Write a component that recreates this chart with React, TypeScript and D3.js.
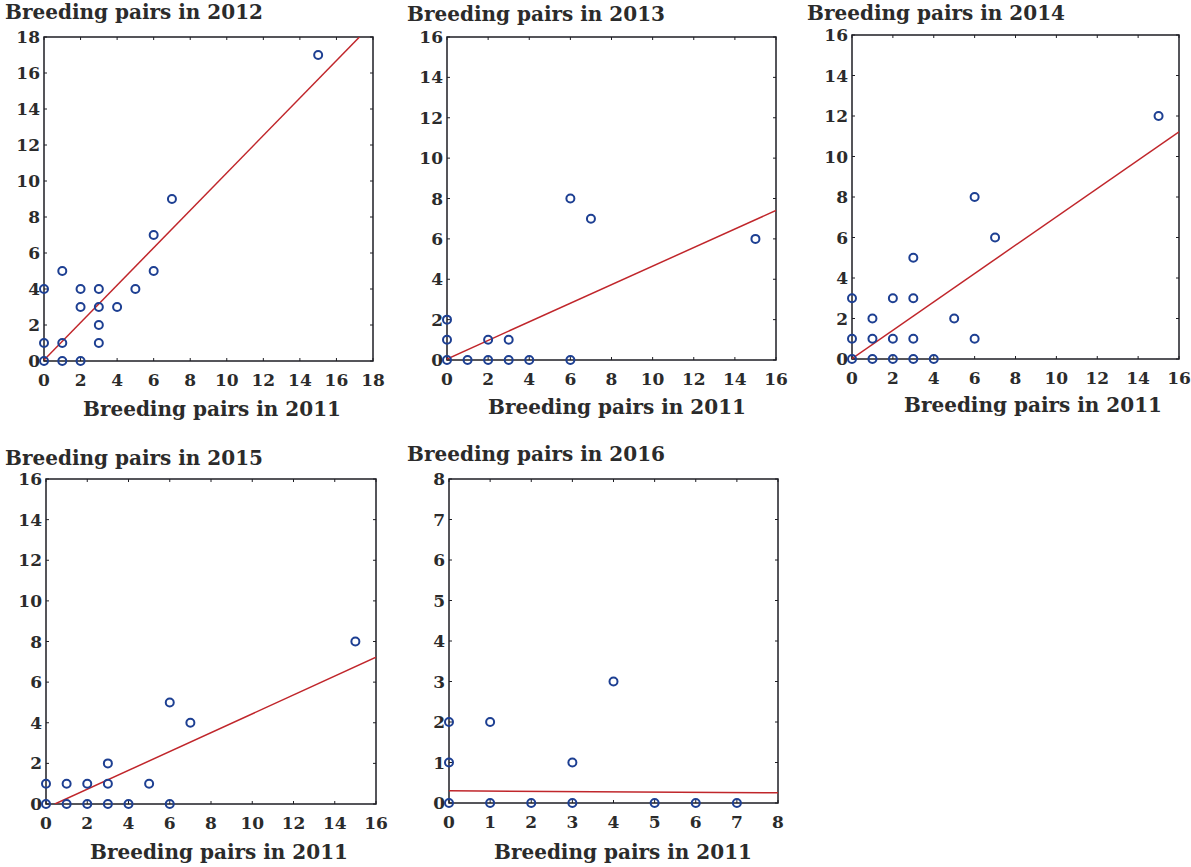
import React from "react";
import * as d3 from "d3";

// ---- data: [pairs in 2011, pairs in year] ----
const pairs2012: [number, number][] = [
  [0, 0], [0, 1], [0, 4], [1, 0], [1, 1], [1, 5], [2, 0], [2, 3], [2, 4],
  [3, 1], [3, 2], [3, 3], [3, 4], [4, 3], [5, 4], [6, 5], [6, 7], [7, 9], [15, 17],
];
const pairs2013: [number, number][] = [
  [0, 0], [0, 1], [0, 2], [1, 0], [2, 0], [2, 1], [3, 0], [3, 1], [4, 0],
  [6, 0], [6, 8], [7, 7], [15, 6],
];
const pairs2014: [number, number][] = [
  [0, 0], [0, 1], [0, 3], [1, 0], [1, 1], [1, 2], [2, 0], [2, 1], [2, 3],
  [3, 0], [3, 1], [3, 3], [3, 5], [4, 0], [5, 2], [6, 1], [6, 8], [7, 6], [15, 12],
];
const pairs2015: [number, number][] = [
  [0, 0], [0, 1], [1, 0], [1, 1], [2, 0], [2, 1], [3, 0], [3, 1], [3, 2],
  [4, 0], [5, 1], [6, 0], [6, 5], [7, 4], [15, 8],
];
const pairs2016: [number, number][] = [
  [0, 0], [0, 1], [0, 2], [1, 0], [1, 2], [2, 0], [3, 0], [3, 1], [4, 3],
  [5, 0], [6, 0], [7, 0],
];

// regression lines: [intercept, slope]
const fit2012: [number, number] = [0.05, 1.04];
const fit2013: [number, number] = [0.05, 0.46];
const fit2014: [number, number] = [0.02, 0.70];
const fit2015: [number, number] = [-0.2, 0.464];
const fit2016: [number, number] = [0.30, -0.006];

const years = ["2012", "2013", "2014", "2015", "2016"];
const axisMax = [18, 16, 16, 16, 8];
const tickStep = [2, 2, 2, 2, 1];
const xTitle = "Breeding pairs in 2011";

const allData = [pairs2012, pairs2013, pairs2014, pairs2015, pairs2016];
const allFits = [fit2012, fit2013, fit2014, fit2015, fit2016];

// ---- layout ----
const layout = [
  { l: 44, r: 373, t: 37, b: 361, tx: 5, ty: 19, axy: 416, axx: 212 },
  { l: 447, r: 776, t: 37, b: 360, tx: 407, ty: 21, axy: 414, axx: 617 },
  { l: 852, r: 1179, t: 35, b: 359, tx: 807, ty: 20, axy: 412, axx: 1033 },
  { l: 46, r: 376, t: 479, b: 804, tx: 5, ty: 465, axy: 859, axx: 219 },
  { l: 449, r: 778, t: 479, b: 803, tx: 407, ty: 461, axy: 859, axx: 623 },
];

const FONT = "'DejaVu Serif', 'Liberation Serif', serif";
const TEXT = "#2b2b2b";
const FRAME = "#1e1e24";
const POINT = "#1d3f92";
const LINE = "#c0262b";

function Panel({ i }: { i: number }) {
  const L = layout[i];
  const max = axisMax[i];
  const step = tickStep[i];
  const x = d3.scaleLinear().domain([0, max]).range([L.l, L.r]);
  const y = d3.scaleLinear().domain([0, max]).range([L.b, L.t]);
  const ticks = d3.range(0, max + step / 2, step);
  const [a, s] = allFits[i];
  let x0 = 0;
  if (a < 0) x0 = -a / s;
  let x1 = max;
  if (a + s * max > max) x1 = (max - a) / s;
  const lineGen = d3.line<number>().x((v) => x(v)).y((v) => y(Math.max(0, a + s * v)));
  const clipId = `clip${i}`;
  return (
    <g>
      <defs>
        <clipPath id={clipId}>
          <rect x={L.l} y={L.t} width={L.r - L.l} height={L.b - L.t} />
        </clipPath>
      </defs>
      <text x={L.tx} y={L.ty} fontFamily={FONT} fontWeight="bold" fontSize={20} fill={TEXT}>
        {`Breeding pairs in ${years[i]}`}
      </text>
      <rect x={L.l} y={L.t} width={L.r - L.l} height={L.b - L.t} fill="white" stroke={FRAME} strokeWidth={1.5} />
      {ticks.map((t) => (
        <g key={`t${t}`} stroke={FRAME} strokeWidth={1}>
          <line x1={x(t)} x2={x(t)} y1={L.b} y2={L.b - 3} />
          <line x1={x(t)} x2={x(t)} y1={L.t} y2={L.t + 3} />
          <line x1={L.l} x2={L.l + 3} y1={y(t)} y2={y(t)} />
          <line x1={L.r} x2={L.r - 3} y1={y(t)} y2={y(t)} />
        </g>
      ))}
      {ticks.map((t) => (
        <text key={`xl${t}`} x={x(t)} y={L.b + 25} textAnchor="middle" fontFamily={FONT} fontWeight="bold" fontSize={17} fill={TEXT}>
          {t}
        </text>
      ))}
      {ticks.map((t) => (
        <text key={`yl${t}`} x={L.l - 4} y={y(t) + 6} textAnchor="end" fontFamily={FONT} fontWeight="bold" fontSize={17} fill={TEXT}>
          {t}
        </text>
      ))}
      <text x={L.axx} y={L.axy} textAnchor="middle" fontFamily={FONT} fontWeight="bold" fontSize={20} fill={TEXT}>
        {xTitle}
      </text>
      <path d={lineGen([x0, x1]) || ""} stroke={LINE} strokeWidth={1.5} fill="none" clipPath={`url(#${clipId})`} />
      {allData[i].map(([px, py], k) => (
        <circle key={k} cx={x(px)} cy={y(py)} r={4} fill="none" stroke={POINT} strokeWidth={2} />
      ))}
    </g>
  );
}

export default function App() {
  return (
    <svg width={1191} height={867} style={{ position: "absolute", left: 0, top: 0, background: "white" }}>
      <rect x={0} y={0} width={1191} height={867} fill="white" />
      {years.map((_, i) => (
        <Panel key={i} i={i} />
      ))}
    </svg>
  );
}
